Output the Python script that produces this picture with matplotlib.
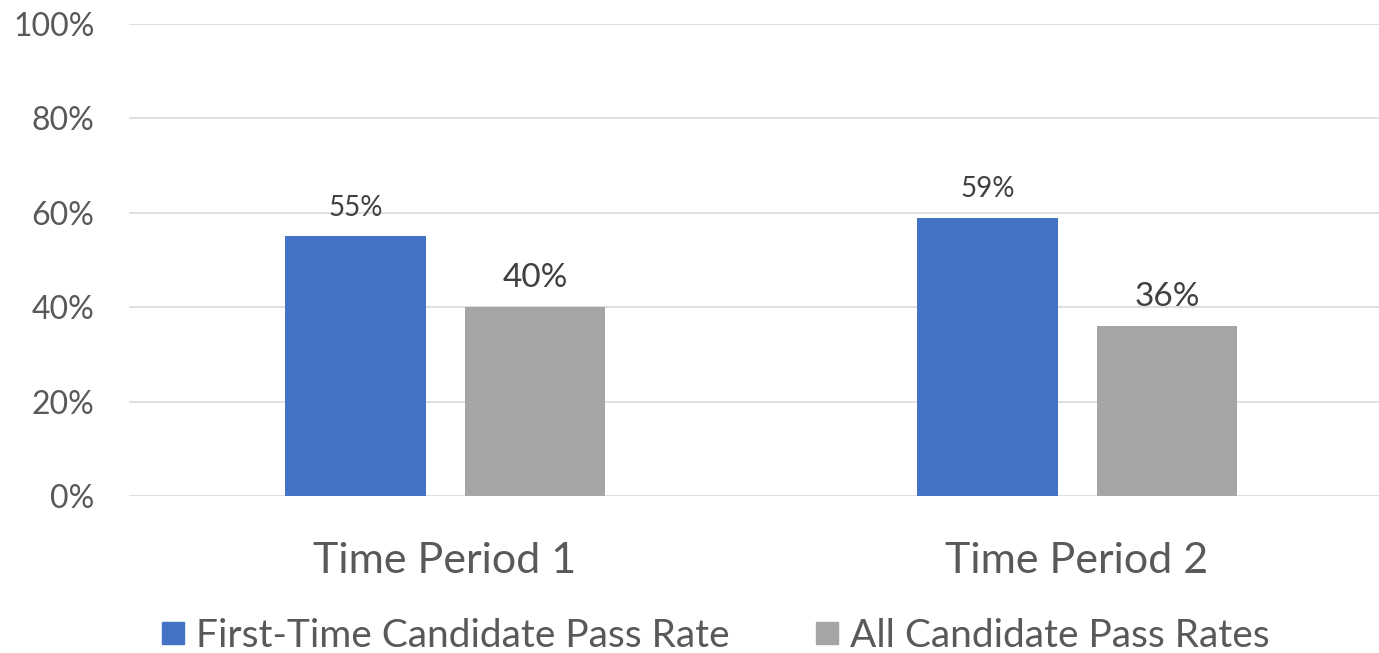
import matplotlib
matplotlib.use("Agg")
import matplotlib.pyplot as plt
import numpy as np
from matplotlib.lines import Line2D

# ---------------------------------------------------------------------------
# Data
# ---------------------------------------------------------------------------
periods = ["Time Period 1", "Time Period 2"]
first_time = [55, 59]
all_candidates = [40, 36]
series_names = ["First-Time Candidate Pass Rate", "All Candidate Pass Rates"]

BLUE = "#4472C4"
GRAY = "#A5A5A5"
TEXT = "#595959"
LABEL = "#404040"

plt.rcParams["font.family"] = ["Lato", "DejaVu Sans"]

fig = plt.figure(figsize=(13.79, 6.53), dpi=100)
ax = fig.add_axes([129 / 1379, 157 / 653, 1264 / 1379, 472 / 653])

x = np.arange(len(periods))
width = 0.223
b1 = ax.bar(x - 0.1416, first_time, width, color=BLUE, zorder=3)
b2 = ax.bar(x + 0.1424, all_candidates, width, color=GRAY, zorder=3)

# value labels (blue ones a touch smaller, as in the source)
for bars, vals, fs in ((b1, first_time, 20), (b2, all_candidates, 24)):
    for rect, v in zip(bars, vals):
        ax.annotate(f"{v}%", (rect.get_x() + rect.get_width() / 2, v),
                    xytext=(0, 14.5), textcoords="offset points",
                    ha="center", va="baseline", fontsize=fs, color=LABEL)

ax.set_xlim(-0.5, 1.5)
ax.set_ylim(0, 100)
ax.set_yticks(np.arange(0, 101, 20))
ax.set_yticklabels([f"{t}%" for t in range(0, 101, 20)])
ax.set_xticks(x)
ax.set_xticklabels(periods)

ax.tick_params(axis="y", length=0, pad=25, labelsize=23, labelcolor=TEXT)
ax.tick_params(axis="x", length=0, pad=33, labelsize=31, labelcolor=TEXT)
ax.grid(axis="y", color="#D9D9D9", lw=1.2, zorder=0)
for s in ax.spines.values():
    s.set_visible(False)

handles = [Line2D([], [], marker="s", ls="none", markersize=16, color=BLUE),
           Line2D([], [], marker="s", ls="none", markersize=16, color=GRAY)]
leg = fig.legend(handles, series_names, loc="center", bbox_to_anchor=(0.516, 0.026),
                 ncol=2, frameon=False, fontsize=28, handletextpad=0.1,
                 columnspacing=2.0, handlelength=1.0, borderaxespad=0)
for t in leg.get_texts():
    t.set_color(TEXT)

fig.savefig("out.png", dpi=100)
